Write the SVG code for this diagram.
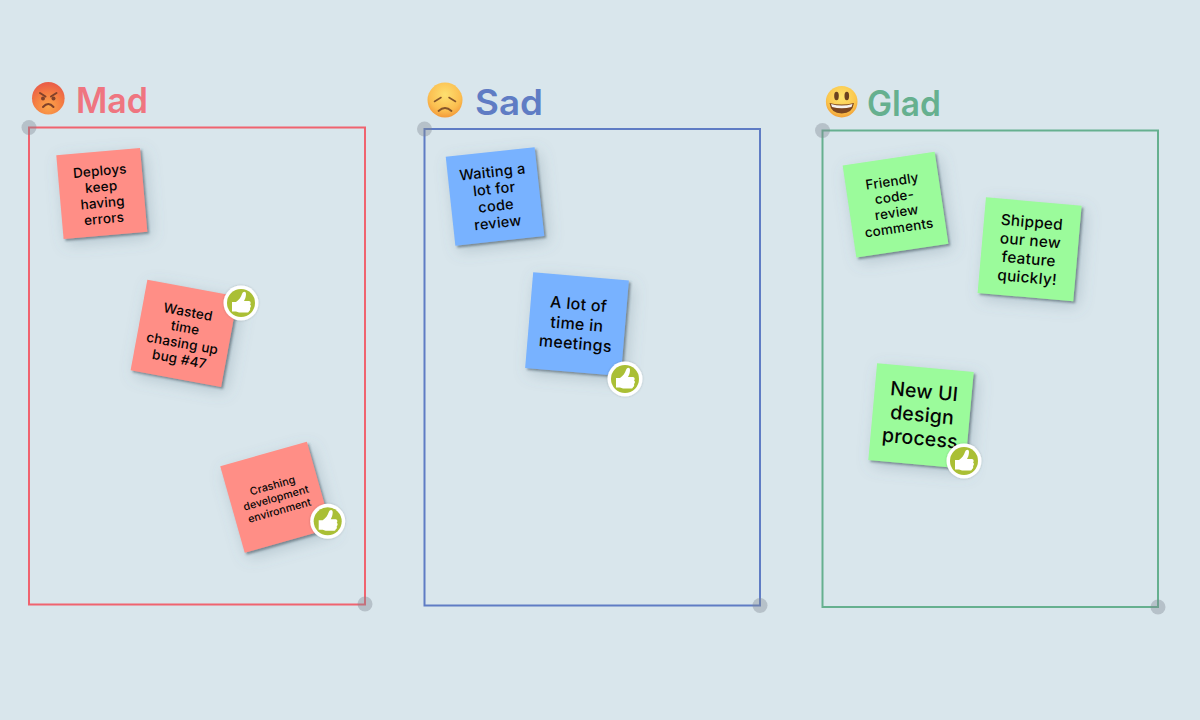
<svg xmlns="http://www.w3.org/2000/svg" width="1200" height="720" viewBox="0 0 1200 720">
  <style>
    .frame { fill: none; stroke-width: 2; }
    .handle { fill: #7f8790; fill-opacity: .38; }
    .title { font-family: Inter, "Liberation Sans", sans-serif; font-weight: 600; font-size: 35px; }
    .note-text { font-family: Inter, "Liberation Sans", sans-serif; font-weight: 500; fill: #050505; text-anchor: middle; }
    .mad { fill: #ff8e86; }
    .sad { fill: #78b2ff; }
    .glad { fill: #9bfb9b; }
    .ring { fill: #ffffff; }
    .ring-inner { fill: #aabf35; }
    .thumb { fill: #ffffff; }
  </style>
  <defs>
    <!-- Tight edge shadow plus a wide, faint halo -->
    <filter id="noteShadow" x="-30%" y="-30%" width="170%" height="170%">
      <feGaussianBlur in="SourceAlpha" stdDeviation="1.2" result="edge"/>
      <feOffset in="edge" dx="1.5" dy="1.5" result="edgeOff"/>
      <feFlood flood-color="#33434d" flood-opacity=".5"/>
      <feComposite in2="edgeOff" operator="in" result="edgeShadow"/>
      <feGaussianBlur in="SourceAlpha" stdDeviation="8" result="halo"/>
      <feOffset in="halo" dx="4" dy="5" result="haloOff"/>
      <feFlood flood-color="#5b7686" flood-opacity=".3"/>
      <feComposite in2="haloOff" operator="in" result="haloShadow"/>
      <feMerge>
        <feMergeNode in="haloShadow"/>
        <feMergeNode in="edgeShadow"/>
        <feMergeNode in="SourceGraphic"/>
      </feMerge>
    </filter>
    <filter id="badgeShadow" x="-30%" y="-30%" width="160%" height="160%">
      <feDropShadow dx="0" dy="0" stdDeviation="1" flood-color="#000000" flood-opacity=".2"/>
    </filter>
    <radialGradient id="madFace" cx="50%" cy="75%" r="70%">
      <stop offset="0" stop-color="#fca64a"/>
      <stop offset=".6" stop-color="#f47d42"/>
      <stop offset="1" stop-color="#ea5f48"/>
    </radialGradient>
    <radialGradient id="sadFace" cx="50%" cy="35%" r="65%">
      <stop offset="0" stop-color="#fde070"/>
      <stop offset=".7" stop-color="#fbbe50"/>
      <stop offset="1" stop-color="#f39a3a"/>
    </radialGradient>
    <radialGradient id="gladFace" cx="50%" cy="35%" r="65%">
      <stop offset="0" stop-color="#fde46c"/>
      <stop offset=".7" stop-color="#fbc64c"/>
      <stop offset="1" stop-color="#f2a038"/>
    </radialGradient>
    <g id="badge">
      <circle class="ring" r="17.5" filter="url(#badgeShadow)"/>
      <circle class="ring-inner" r="14"/>
      <path class="thumb" d="M-9,-1 L-5,-1 C-2,-3 0,-6 1,-9 C2,-12 5,-12 5,-9 C5,-6 4,-4 3,-2 L8,-2 C10,-2 10,1 9,1.5 C10.5,2 10,4.5 9,5 C9.5,6 9,8 8,8 C8,9.5 7,9.5 6,9.5 L-2,9.5 L-5,8.5 L-9,8.5 Z"/>
    </g>
  </defs>

  <rect width="1200" height="720" fill="#d9e6ec"/>

  <!-- Column frames with their corner handles -->
  <g id="frame-mad">
    <rect class="frame" x="29" y="127.500" width="336" height="477" stroke="#f0636f"/>
    <circle class="handle" cx="29" cy="127.500" r="7.500"/>
    <circle class="handle" cx="365" cy="604" r="7.500"/>
  </g>
  <g id="frame-sad">
    <rect class="frame" x="424.500" y="129" width="335.500" height="476.500" stroke="#5f7cc4"/>
    <circle class="handle" cx="424.500" cy="129" r="7.500"/>
    <circle class="handle" cx="760" cy="605.500" r="7.500"/>
  </g>
  <g id="frame-glad">
    <rect class="frame" x="822.500" y="130.500" width="335.500" height="476.500" stroke="#66b08f"/>
    <circle class="handle" cx="822.500" cy="130.500" r="7.500"/>
    <circle class="handle" cx="1158" cy="607" r="7.500"/>
  </g>

  <!-- Column headings -->
  <g id="title-mad">
    <circle cx="48.300" cy="98.300" r="16.300" fill="url(#madFace)"/>
    <path d="M40,93 L45.500,96.500 M56.500,93 L51,96.500" stroke="#80412a" stroke-width="2" fill="none" stroke-linecap="round"/>
    <circle cx="43" cy="98.500" r="2" fill="#80412a"/>
    <circle cx="53.500" cy="98.500" r="2" fill="#80412a"/>
    <path d="M43,107 Q48.300,101 53.500,107" stroke="#80412a" stroke-width="2" fill="none" stroke-linecap="round"/>
    <text class="title" x="76" y="113" fill="#ef7580" textLength="72" lengthAdjust="spacingAndGlyphs">Mad</text>
  </g>
  <g id="title-sad">
    <circle cx="445" cy="100" r="17.500" fill="url(#sadFace)"/>
    <path d="M434.500,101.500 L441,97.500 M455.500,101.500 L449,97.500" stroke="#85552a" stroke-width="1.500" fill="none" stroke-linecap="round"/>
    <path d="M438.500,111 Q445,105 451.500,111" stroke="#85552a" stroke-width="1.800" fill="none" stroke-linecap="round"/>
    <text class="title" x="475" y="115" fill="#5f7cc4" textLength="68" lengthAdjust="spacingAndGlyphs">Sad</text>
  </g>
  <g id="title-glad">
    <circle cx="841.700" cy="101.700" r="15.800" fill="url(#gladFace)"/>
    <ellipse cx="836.500" cy="96" rx="2.300" ry="4.200" fill="#6b4320"/>
    <ellipse cx="846.800" cy="96" rx="2.300" ry="4.200" fill="#6b4320"/>
    <path d="M829.500,103 Q841.700,106 854,103 Q852.500,113.500 841.700,113.500 Q831,113.500 829.500,103 Z" fill="#7a4520"/>
    <path d="M831,104 Q841.700,107 852.500,104 L851.500,107 Q841.700,109.500 832,107 Z" fill="#f6f3ee"/>
    <text class="title" x="867" y="116" fill="#66b08f" textLength="74" lengthAdjust="spacingAndGlyphs">Glad</text>
  </g>

  <!-- Sticky notes -->
  <g id="note-deploys">
    <g filter="url(#noteShadow)"><rect class="mad" x="-42" y="-42" width="84" height="84" transform="translate(101.800 193.500) rotate(-5)"/></g>
    <g transform="translate(101.800 193.500) rotate(-5)" class="note-text" font-size="13.500" letter-spacing=".2">
      <text x="0" y="-18">Deploys</text>
      <text x="0" y="-2">keep</text>
      <text x="0" y="14">having</text>
      <text x="0" y="30">errors</text>
    </g>
  </g>
  <g id="note-wasted">
    <g filter="url(#noteShadow)"><rect class="mad" x="-46" y="-46" width="92" height="92" transform="translate(184.200 333.300) rotate(10.500)"/></g>
    <g transform="translate(184.200 333.300) rotate(10.500)" class="note-text" font-size="13.500" letter-spacing=".2">
      <text x="0" y="-17">Wasted</text>
      <text x="0" y="-1">time</text>
      <text x="0" y="15">chasing up</text>
      <text x="0" y="31">bug #47</text>
    </g>
  </g>
  <use id="vote-wasted" href="#badge" x="241" y="303"/>
  <g id="note-crashing">
    <g filter="url(#noteShadow)"><rect class="mad" x="-45" y="-45" width="90" height="90" transform="translate(275.800 497.200) rotate(-15.800)"/></g>
    <g transform="translate(275.800 497.200) rotate(-15.800)" class="note-text" font-size="10.700" letter-spacing=".1">
      <text x="0" y="-8.500">Crashing</text>
      <text x="0" y="4.500">development</text>
      <text x="0" y="17.500">environment</text>
    </g>
  </g>
  <use id="vote-crashing" href="#badge" x="327.700" y="521.300"/>

  <g id="note-waiting">
    <g filter="url(#noteShadow)"><rect class="sad" x="-44.700" y="-44.700" width="89.400" height="89.400" transform="translate(495 196.400) rotate(-6.200)"/></g>
    <g transform="translate(495 196.400) rotate(-6.200)" class="note-text" font-size="14.500" letter-spacing=".25">
      <text x="0" y="-19.500">Waiting a</text>
      <text x="0" y="-2.500">lot for</text>
      <text x="0" y="14.500">code</text>
      <text x="0" y="31.500">review</text>
    </g>
  </g>
  <g id="note-meetings">
    <g filter="url(#noteShadow)"><rect class="sad" x="-48" y="-48" width="96" height="96" transform="translate(577 324.200) rotate(4.800)"/></g>
    <g transform="translate(577 324.200) rotate(4.800)" class="note-text" font-size="16" letter-spacing=".3">
      <text x="0" y="-14.500">A lot of</text>
      <text x="0" y="5.500">time in</text>
      <text x="0" y="25">meetings</text>
    </g>
  </g>
  <use id="vote-meetings" href="#badge" x="625" y="379"/>

  <g id="note-friendly">
    <g filter="url(#noteShadow)"><rect class="glad" x="-46.500" y="-46.500" width="93" height="93" transform="translate(895.500 204.700) rotate(-8.500)"/></g>
    <g transform="translate(895.500 204.700) rotate(-8.500)" class="note-text" font-size="13.500" letter-spacing=".2">
      <text x="0" y="-19">Friendly</text>
      <text x="0" y="-3.300">code-</text>
      <text x="0" y="12.400">review</text>
      <text x="0" y="28.100">comments</text>
    </g>
  </g>
  <g id="note-shipped">
    <g filter="url(#noteShadow)"><rect class="glad" x="-48" y="-48" width="96" height="96" transform="translate(1029.600 249.300) rotate(5)"/></g>
    <g transform="translate(1029.600 249.300) rotate(5)" class="note-text" font-size="15.300" letter-spacing=".3">
      <text x="0" y="-22">Shipped</text>
      <text x="0" y="-3.500">our new</text>
      <text x="0" y="15">feature</text>
      <text x="0" y="33.500">quickly!</text>
    </g>
  </g>
  <g id="note-design">
    <g filter="url(#noteShadow)"><rect class="glad" x="-48.500" y="-48.500" width="97" height="97" transform="translate(921 416) rotate(5.200)"/></g>
    <g transform="translate(921 416) rotate(5.200)" class="note-text" font-size="19.500" letter-spacing=".2">
      <text x="1" y="-18">New UI</text>
      <text x="1" y="5.500">design</text>
      <text x="1" y="29">process</text>
    </g>
  </g>
  <use id="vote-design" href="#badge" x="964" y="461"/>
</svg>
